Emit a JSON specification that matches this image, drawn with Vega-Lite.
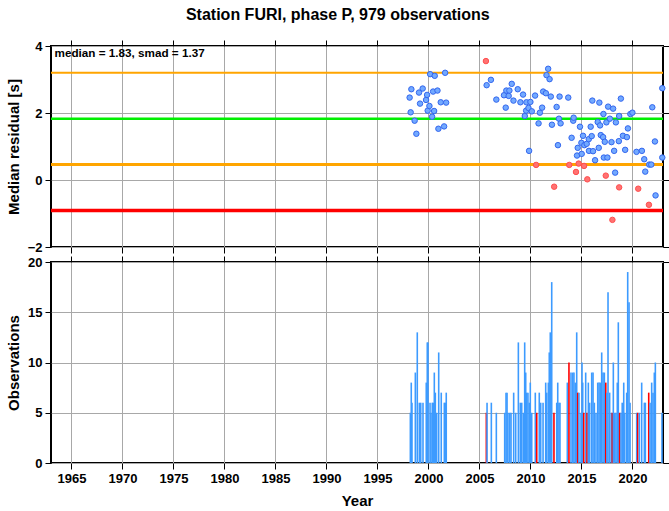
{
  "$schema": "https://vega.github.io/schema/vega-lite/v6.json",
  "padding": {"left": 5, "top": 6, "right": 0, "bottom": 5},
  "title": {"text": "Station FURI, phase P, 979 observations", "font": "Liberation Sans", "fontSize": 16, "fontWeight": "bold", "anchor": "middle", "frame": "bounds", "color": "black", "offset": 16},
  "config": {
    "font": "Liberation Sans",
    "view": {"stroke": "black", "strokeWidth": 2},
    "axis": {"labelFont": "Liberation Sans", "labelFontWeight": "bold", "labelFontSize": 13, "labelColor": "black", "titleFont": "Liberation Sans", "titleFontWeight": "bold", "titleFontSize": 15, "titleColor": "black", "tickColor": "black", "tickSize": 6, "tickWidth": 1, "domain": false, "gridColor": "#a8a8a8", "gridWidth": 1, "labelFlush": false, "labelPadding": 3}
  },
  "datasets": {
    "lines": [
      {"level": 3.20, "kind": "median + smad"},
      {"level": 1.83, "kind": "median"},
      {"level": 0.46, "kind": "median - smad"},
      {"level": -0.91, "kind": "median - 2 smad"}
    ],
    "points": [
      {"t": 1998.16, "r": 2.46, "flag": "ok"}, {"t": 1998.26, "r": 2.02, "flag": "ok"}, {"t": 1998.33, "r": 2.71, "flag": "ok"}, {"t": 1998.65, "r": 1.77, "flag": "ok"}, {"t": 1998.82, "r": 1.38, "flag": "ok"}, {"t": 1999.08, "r": 2.61, "flag": "ok"}, {"t": 1999.18, "r": 2.28, "flag": "ok"}, {"t": 1999.44, "r": 2.73, "flag": "ok"}, {"t": 1999.77, "r": 2.39, "flag": "ok"}, {"t": 1999.87, "r": 2.54, "flag": "ok"}, {"t": 1999.93, "r": 2.07, "flag": "ok"}, {"t": 2000.1, "r": 2.21, "flag": "ok"}, {"t": 2000.17, "r": 3.16, "flag": "ok"}, {"t": 2000.36, "r": 1.89, "flag": "ok"}, {"t": 2000.46, "r": 2.64, "flag": "ok"}, {"t": 2000.56, "r": 2.06, "flag": "ok"}, {"t": 2000.62, "r": 3.11, "flag": "ok"}, {"t": 2000.89, "r": 2.67, "flag": "ok"}, {"t": 2000.98, "r": 1.53, "flag": "ok"}, {"t": 2001.21, "r": 2.32, "flag": "ok"}, {"t": 2001.54, "r": 1.60, "flag": "ok"}, {"t": 2001.64, "r": 3.20, "flag": "ok"}, {"t": 2001.74, "r": 2.31, "flag": "ok"},
      {"t": 2005.71, "r": 2.83, "flag": "ok"}, {"t": 2006.13, "r": 2.99, "flag": "ok"}, {"t": 2006.66, "r": 2.40, "flag": "ok"}, {"t": 2007.41, "r": 2.53, "flag": "ok"}, {"t": 2007.58, "r": 2.16, "flag": "ok"}, {"t": 2007.64, "r": 2.67, "flag": "ok"}, {"t": 2007.87, "r": 2.51, "flag": "ok"}, {"t": 2007.94, "r": 2.67, "flag": "ok"}, {"t": 2008.17, "r": 2.87, "flag": "ok"}, {"t": 2008.34, "r": 2.37, "flag": "ok"}, {"t": 2008.76, "r": 2.71, "flag": "ok"}, {"t": 2009.02, "r": 2.32, "flag": "ok"}, {"t": 2009.28, "r": 2.55, "flag": "ok"}, {"t": 2009.45, "r": 1.91, "flag": "ok"}, {"t": 2009.58, "r": 2.07, "flag": "ok"}, {"t": 2009.61, "r": 2.32, "flag": "ok"}, {"t": 2009.81, "r": 2.15, "flag": "ok"}, {"t": 2009.87, "r": 0.87, "flag": "ok"}, {"t": 2010.0, "r": 2.33, "flag": "ok"}, {"t": 2010.14, "r": 2.05, "flag": "ok"}, {"t": 2010.46, "r": 2.52, "flag": "ok"}, {"t": 2010.8, "r": 1.69, "flag": "ok"}, {"t": 2010.93, "r": 2.01, "flag": "ok"},
      {"t": 2011.15, "r": 2.16, "flag": "ok"}, {"t": 2011.25, "r": 2.64, "flag": "ok"}, {"t": 2011.52, "r": 2.59, "flag": "ok"}, {"t": 2011.58, "r": 3.13, "flag": "ok"}, {"t": 2011.74, "r": 3.32, "flag": "ok"}, {"t": 2011.88, "r": 3.01, "flag": "ok"}, {"t": 2012.0, "r": 2.49, "flag": "ok"}, {"t": 2012.11, "r": 1.65, "flag": "ok"}, {"t": 2012.57, "r": 2.18, "flag": "ok"}, {"t": 2012.7, "r": 1.04, "flag": "ok"}, {"t": 2012.8, "r": 1.83, "flag": "ok"}, {"t": 2012.86, "r": 2.49, "flag": "ok"}, {"t": 2012.96, "r": 1.69, "flag": "ok"}, {"t": 2013.71, "r": 2.46, "flag": "ok"}, {"t": 2014.04, "r": 1.26, "flag": "ok"}, {"t": 2014.2, "r": 1.77, "flag": "ok"}, {"t": 2014.24, "r": 1.86, "flag": "ok"}, {"t": 2014.57, "r": 0.73, "flag": "ok"}, {"t": 2014.64, "r": 0.96, "flag": "ok"}, {"t": 2014.86, "r": 1.59, "flag": "ok"}, {"t": 2015.0, "r": 1.11, "flag": "ok"}, {"t": 2015.03, "r": 0.78, "flag": "ok"}, {"t": 2015.16, "r": 1.32, "flag": "ok"}, {"t": 2015.29, "r": 1.04, "flag": "ok"}, {"t": 2015.52, "r": 1.08, "flag": "ok"}, {"t": 2015.72, "r": 1.22, "flag": "ok"}, {"t": 2015.74, "r": 0.87, "flag": "ok"}, {"t": 2015.91, "r": 1.59, "flag": "ok"}, {"t": 2016.01, "r": 1.31, "flag": "ok"}, {"t": 2016.07, "r": 2.37, "flag": "ok"}, {"t": 2016.14, "r": 0.86, "flag": "ok"}, {"t": 2016.34, "r": 0.59, "flag": "ok"}, {"t": 2016.6, "r": 1.73, "flag": "ok"}, {"t": 2016.7, "r": 0.96, "flag": "ok"}, {"t": 2016.76, "r": 2.31, "flag": "ok"}, {"t": 2016.83, "r": 1.63, "flag": "ok"}, {"t": 2016.9, "r": 1.34, "flag": "ok"}, {"t": 2017.13, "r": 1.28, "flag": "ok"}, {"t": 2017.16, "r": 1.97, "flag": "ok"}, {"t": 2017.2, "r": 0.67, "flag": "ok"}, {"t": 2017.29, "r": 1.14, "flag": "ok"}, {"t": 2017.45, "r": 1.72, "flag": "ok"}, {"t": 2017.55, "r": 0.67, "flag": "ok"}, {"t": 2017.62, "r": 2.19, "flag": "ok"}, {"t": 2017.79, "r": 1.83, "flag": "ok"}, {"t": 2017.95, "r": 1.13, "flag": "ok"}, {"t": 2018.11, "r": 2.13, "flag": "ok"}, {"t": 2018.21, "r": 0.87, "flag": "ok"}, {"t": 2018.31, "r": 0.22, "flag": "ok"}, {"t": 2018.38, "r": 1.72, "flag": "ok"}, {"t": 2018.67, "r": 1.16, "flag": "ok"}, {"t": 2018.7, "r": 1.91, "flag": "ok"}, {"t": 2018.87, "r": 2.43, "flag": "ok"}, {"t": 2019.07, "r": 1.32, "flag": "ok"}, {"t": 2019.29, "r": 0.90, "flag": "ok"}, {"t": 2019.46, "r": 1.28, "flag": "ok"}, {"t": 2019.56, "r": 1.54, "flag": "ok"}, {"t": 2019.8, "r": 1.97, "flag": "ok"}, {"t": 2020.0, "r": 2.01, "flag": "ok"}, {"t": 2020.4, "r": 0.84, "flag": "ok"}, {"t": 2020.93, "r": 0.87, "flag": "ok"}, {"t": 2021.16, "r": 0.62, "flag": "ok"}, {"t": 2021.26, "r": 0.25, "flag": "ok"}, {"t": 2021.65, "r": 0.46, "flag": "ok"}, {"t": 2021.85, "r": 0.46, "flag": "ok"}, {"t": 2021.95, "r": 2.17, "flag": "ok"}, {"t": 2022.21, "r": 1.15, "flag": "ok"}, {"t": 2022.27, "r": -0.46, "flag": "ok"}, {"t": 2022.93, "r": 2.74, "flag": "ok"}, {"t": 2022.93, "r": 0.67, "flag": "ok"},
      {"t": 2005.64, "r": 3.55, "flag": "out"}, {"t": 2010.56, "r": 0.45, "flag": "out"}, {"t": 2012.33, "r": -0.20, "flag": "out"}, {"t": 2013.81, "r": 0.45, "flag": "out"}, {"t": 2014.47, "r": 0.24, "flag": "out"}, {"t": 2014.73, "r": 0.49, "flag": "out"}, {"t": 2015.26, "r": 0.42, "flag": "out"}, {"t": 2015.58, "r": 0.02, "flag": "out"}, {"t": 2017.39, "r": 0.13, "flag": "out"}, {"t": 2018.04, "r": -1.19, "flag": "out"}, {"t": 2018.7, "r": -0.22, "flag": "out"}, {"t": 2020.57, "r": -0.26, "flag": "out"}, {"t": 2021.62, "r": -0.74, "flag": "out"}
    ],
    "bars": [
      {"t": 1998.23, "n": 5, "flag": "ok"}, {"t": 1998.32, "n": 8, "flag": "ok"}, {"t": 1998.39, "n": 6, "flag": "ok"}, {"t": 1998.72, "n": 9, "flag": "ok"}, {"t": 1998.91, "n": 13, "flag": "ok"}, {"t": 1999.11, "n": 6, "flag": "ok"}, {"t": 1999.25, "n": 6, "flag": "ok"}, {"t": 1999.47, "n": 6, "flag": "ok"}, {"t": 1999.79, "n": 8, "flag": "ok"}, {"t": 1999.89, "n": 12, "flag": "ok"}, {"t": 1999.96, "n": 12, "flag": "ok"}, {"t": 2000.16, "n": 6, "flag": "ok"}, {"t": 2000.25, "n": 5, "flag": "ok"}, {"t": 2000.38, "n": 6, "flag": "ok"}, {"t": 2000.48, "n": 6, "flag": "ok"}, {"t": 2000.58, "n": 9, "flag": "ok"}, {"t": 2000.68, "n": 7, "flag": "ok"}, {"t": 2000.81, "n": 5, "flag": "ok"}, {"t": 2001.01, "n": 11, "flag": "ok"}, {"t": 2001.26, "n": 7, "flag": "ok"}, {"t": 2001.56, "n": 6, "flag": "ok"}, {"t": 2001.66, "n": 6, "flag": "ok"}, {"t": 2001.75, "n": 7, "flag": "ok"},
      {"t": 2005.68, "n": 5, "flag": "out"}, {"t": 2005.75, "n": 6, "flag": "ok"}, {"t": 2006.17, "n": 6, "flag": "ok"}, {"t": 2006.66, "n": 5, "flag": "ok"}, {"t": 2007.48, "n": 5, "flag": "ok"}, {"t": 2007.61, "n": 7, "flag": "ok"}, {"t": 2007.71, "n": 7, "flag": "ok"}, {"t": 2007.8, "n": 5, "flag": "ok"}, {"t": 2007.97, "n": 5, "flag": "ok"}, {"t": 2008.1, "n": 5, "flag": "ok"}, {"t": 2008.36, "n": 7, "flag": "ok"}, {"t": 2008.56, "n": 5, "flag": "ok"}, {"t": 2008.82, "n": 12, "flag": "ok"}, {"t": 2009.01, "n": 6, "flag": "ok"}, {"t": 2009.15, "n": 6, "flag": "ok"}, {"t": 2009.31, "n": 5, "flag": "ok"}, {"t": 2009.44, "n": 12, "flag": "ok"}, {"t": 2009.54, "n": 9, "flag": "ok"}, {"t": 2009.63, "n": 7, "flag": "ok"}, {"t": 2009.76, "n": 7, "flag": "ok"}, {"t": 2009.89, "n": 6, "flag": "ok"}, {"t": 2009.99, "n": 8, "flag": "ok"}, {"t": 2010.13, "n": 5, "flag": "ok"}, {"t": 2010.48, "n": 7, "flag": "ok"}, {"t": 2010.62, "n": 5, "flag": "out"},
      {"t": 2010.87, "n": 7, "flag": "ok"}, {"t": 2011.01, "n": 6, "flag": "ok"}, {"t": 2011.24, "n": 6, "flag": "ok"}, {"t": 2011.5, "n": 8, "flag": "ok"}, {"t": 2011.6, "n": 7, "flag": "ok"}, {"t": 2011.76, "n": 8, "flag": "ok"}, {"t": 2011.85, "n": 11, "flag": "ok"}, {"t": 2011.95, "n": 13, "flag": "ok"}, {"t": 2012.09, "n": 18, "flag": "ok"}, {"t": 2012.31, "n": 5, "flag": "out"}, {"t": 2012.58, "n": 6, "flag": "ok"}, {"t": 2012.68, "n": 8, "flag": "ok"}, {"t": 2012.8, "n": 6, "flag": "ok"}, {"t": 2012.9, "n": 6, "flag": "ok"}, {"t": 2013.62, "n": 8, "flag": "ok"}, {"t": 2013.78, "n": 10, "flag": "out"}, {"t": 2013.98, "n": 9, "flag": "ok"}, {"t": 2014.15, "n": 9, "flag": "ok"}, {"t": 2014.27, "n": 9, "flag": "ok"}, {"t": 2014.4, "n": 8, "flag": "ok"}, {"t": 2014.54, "n": 13, "flag": "ok"}, {"t": 2014.64, "n": 7, "flag": "out"}, {"t": 2014.76, "n": 7, "flag": "ok"}, {"t": 2014.96, "n": 5, "flag": "ok"}, {"t": 2015.06, "n": 10, "flag": "ok"},
      {"t": 2015.13, "n": 8, "flag": "ok"}, {"t": 2015.23, "n": 5, "flag": "out"}, {"t": 2015.42, "n": 9, "flag": "ok"}, {"t": 2015.55, "n": 5, "flag": "out"}, {"t": 2015.68, "n": 8, "flag": "ok"}, {"t": 2015.81, "n": 6, "flag": "ok"}, {"t": 2016.01, "n": 9, "flag": "ok"}, {"t": 2016.14, "n": 9, "flag": "ok"}, {"t": 2016.27, "n": 6, "flag": "ok"}, {"t": 2016.43, "n": 5, "flag": "ok"}, {"t": 2016.6, "n": 8, "flag": "ok"}, {"t": 2016.73, "n": 8, "flag": "ok"}, {"t": 2016.85, "n": 8, "flag": "ok"}, {"t": 2016.99, "n": 11, "flag": "ok"}, {"t": 2017.12, "n": 9, "flag": "ok"}, {"t": 2017.25, "n": 9, "flag": "ok"}, {"t": 2017.39, "n": 8, "flag": "out"}, {"t": 2017.5, "n": 7, "flag": "ok"}, {"t": 2017.61, "n": 17, "flag": "ok"}, {"t": 2017.77, "n": 7, "flag": "ok"}, {"t": 2017.93, "n": 5, "flag": "ok"}, {"t": 2018.03, "n": 5, "flag": "out"}, {"t": 2018.13, "n": 10, "flag": "ok"}, {"t": 2018.26, "n": 5, "flag": "ok"}, {"t": 2018.39, "n": 5, "flag": "ok"}, {"t": 2018.52, "n": 8, "flag": "ok"}, {"t": 2018.62, "n": 14, "flag": "ok"}, {"t": 2018.75, "n": 5, "flag": "out"}, {"t": 2018.88, "n": 5, "flag": "ok"}, {"t": 2019.0, "n": 6, "flag": "ok"},
      {"t": 2019.15, "n": 8, "flag": "ok"}, {"t": 2019.25, "n": 5, "flag": "ok"}, {"t": 2019.44, "n": 7, "flag": "ok"}, {"t": 2019.54, "n": 19, "flag": "ok"}, {"t": 2019.67, "n": 16, "flag": "ok"}, {"t": 2019.77, "n": 6, "flag": "ok"}, {"t": 2020.42, "n": 5, "flag": "ok"}, {"t": 2020.52, "n": 5, "flag": "out"}, {"t": 2020.68, "n": 5, "flag": "ok"}, {"t": 2020.91, "n": 8, "flag": "ok"}, {"t": 2021.17, "n": 6, "flag": "ok"}, {"t": 2021.27, "n": 6, "flag": "ok"}, {"t": 2021.6, "n": 7, "flag": "out"}, {"t": 2021.73, "n": 6, "flag": "ok"}, {"t": 2021.89, "n": 8, "flag": "ok"}, {"t": 2022.02, "n": 7, "flag": "ok"}, {"t": 2022.15, "n": 9, "flag": "ok"}, {"t": 2022.25, "n": 10, "flag": "ok"}, {"t": 2022.9, "n": 5, "flag": "ok"}
    ]
  },
  "bounds": "flush",
  "spacing": 15,
  "vconcat": [
    {
      "width": 612,
      "height": 201,
      "layer": [
        {
          "data": {"name": "lines"},
          "mark": {"type": "rule"},
          "encoding": {
            "y": {"field": "level", "type": "quantitative", "scale": {"domain": [-2, 4], "nice": false, "zero": false}, "axis": null},
            "color": {"field": "kind", "type": "nominal", "scale": {"domain": ["median + smad", "median", "median - smad", "median - 2 smad"], "range": ["#ffa500", "#00f000", "#ffa500", "#ff0000"]}, "legend": null},
            "size": {"field": "kind", "type": "nominal", "scale": {"domain": ["median + smad", "median", "median - smad", "median - 2 smad"], "range": [2, 3.5, 2, 2]}, "legend": null}
          }
        },
        {
          "data": {"name": "points"},
          "mark": {"type": "circle", "size": 30, "strokeWidth": 1, "opacity": 1},
          "encoding": {
            "x": {"field": "t", "type": "quantitative", "scale": {"domain": [1963, 2023], "nice": false, "zero": false}, "axis": {"orient": "bottom", "values": [1965, 1970, 1975, 1980, 1985, 1990, 1995, 2000, 2005, 2010, 2015, 2020], "labels": false, "title": null, "grid": true}},
            "y": {"field": "r", "type": "quantitative", "scale": {"domain": [-2, 4], "nice": false, "zero": false}, "axis": {"orient": "left", "values": [-2, 0, 2, 4], "title": "Median residual [s]", "grid": true, "titlePadding": 6}},
            "fill": {"field": "flag", "type": "nominal", "scale": {"domain": ["ok", "out"], "range": ["#72a9ff", "#ff7272"]}, "legend": null},
            "stroke": {"field": "flag", "type": "nominal", "scale": {"domain": ["ok", "out"], "range": ["#3366ee", "#ff4d4d"]}, "legend": null}
          }
        },
        {
          "data": {"name": "points"},
          "mark": {"type": "point", "opacity": 0},
          "encoding": {
            "x": {"field": "t", "type": "quantitative", "axis": {"orient": "top", "values": [1965, 1970, 1975, 1980, 1985, 1990, 1995, 2000, 2005, 2010, 2015, 2020], "labels": false, "title": null, "grid": false}},
            "y": {"field": "r", "type": "quantitative", "axis": {"orient": "right", "values": [-2, 0, 2, 4], "labels": false, "title": null, "grid": false}}
          }
        },
        {
          "data": {"values": [{"median": 1.83, "smad": 1.37}]},
          "mark": {"type": "text", "align": "left", "baseline": "middle", "font": "Liberation Sans", "fontWeight": "bold", "fontSize": 11.7, "color": "black"},
          "encoding": {
            "x": {"datum": 1963.35, "axis": null},
            "y": {"datum": 3.79, "axis": null},
            "text": {"value": "median = 1.83, smad = 1.37"}
          }
        }
      ],
      "resolve": {"axis": {"x": "independent", "y": "independent"}, "scale": {"color": "independent", "size": "independent"}}
    },
    {
      "width": 612,
      "height": 201,
      "data": {"name": "bars"},
      "layer": [
        {
          "mark": {"type": "rule", "strokeWidth": 1.6},
          "encoding": {
            "x": {"field": "t", "type": "quantitative", "scale": {"domain": [1963, 2023], "nice": false, "zero": false}, "axis": {"orient": "bottom", "values": [1965, 1970, 1975, 1980, 1985, 1990, 1995, 2000, 2005, 2010, 2015, 2020], "format": "d", "title": "Year", "grid": true, "titlePadding": 8}},
            "y": {"field": "n", "type": "quantitative", "scale": {"domain": [0, 20], "nice": false}, "axis": {"orient": "left", "values": [0, 5, 10, 15, 20], "title": "Observations", "grid": true, "titlePadding": 6}},
            "y2": {"datum": 0},
            "color": {"field": "flag", "type": "nominal", "scale": {"domain": ["ok", "out"], "range": ["#3d9bff", "#ff0000"]}, "legend": null}
          }
        },
        {
          "mark": {"type": "point", "opacity": 0},
          "encoding": {
            "x": {"field": "t", "type": "quantitative", "axis": {"orient": "top", "values": [1965, 1970, 1975, 1980, 1985, 1990, 1995, 2000, 2005, 2010, 2015, 2020], "labels": false, "title": null, "grid": false}},
            "y": {"field": "n", "type": "quantitative", "axis": {"orient": "right", "values": [0, 5, 10, 15, 20], "labels": false, "title": null, "grid": false}}
          }
        }
      ],
      "resolve": {"axis": {"x": "independent", "y": "independent"}}
    }
  ]
}
